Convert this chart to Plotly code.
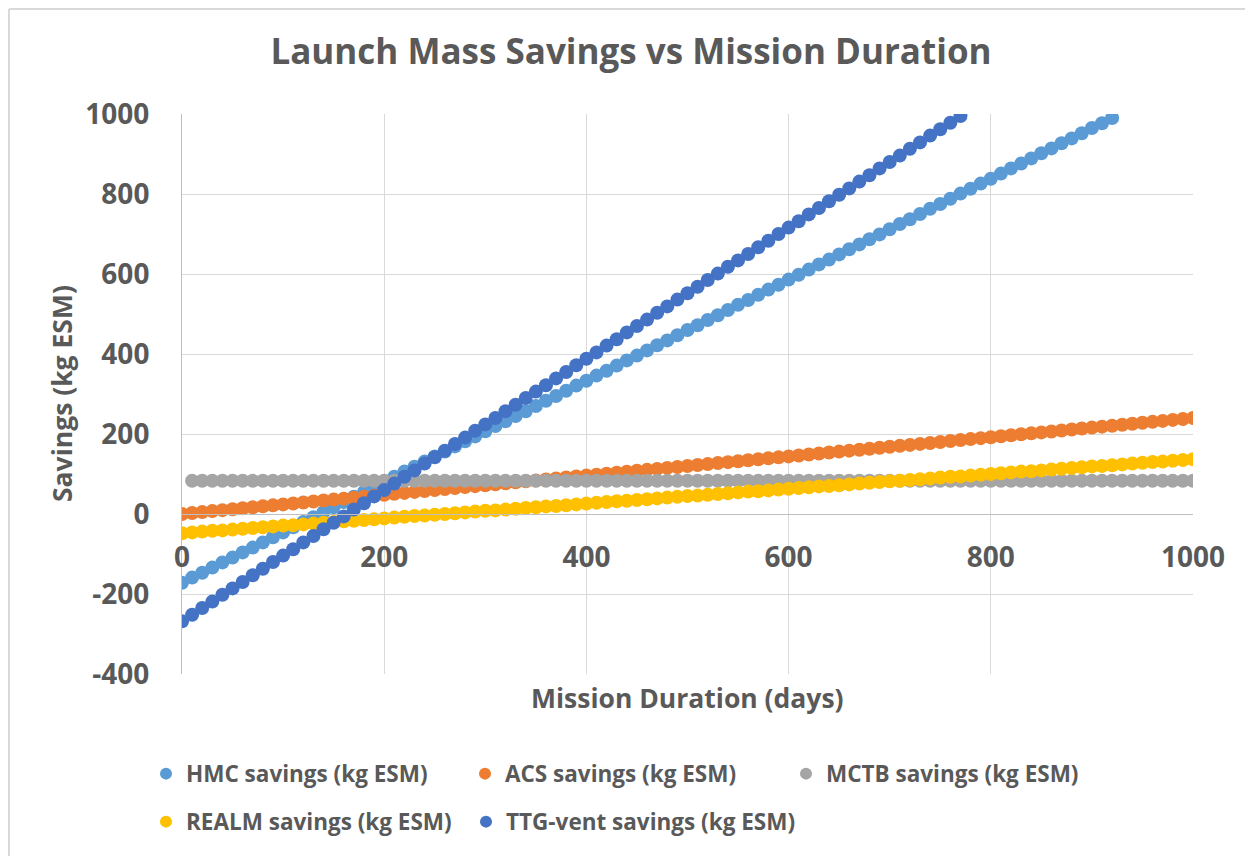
import plotly.graph_objects as go

DAYS = [0, 10, 20, 30, 40, 50, 60, 70, 80, 90,
        100, 110, 120, 130, 140, 150, 160, 170, 180, 190,
        200, 210, 220, 230, 240, 250, 260, 270, 280, 290,
        300, 310, 320, 330, 340, 350, 360, 370, 380, 390,
        400, 410, 420, 430, 440, 450, 460, 470, 480, 490,
        500, 510, 520, 530, 540, 550, 560, 570, 580, 590,
        600, 610, 620, 630, 640, 650, 660, 670, 680, 690,
        700, 710, 720, 730, 740, 750, 760, 770, 780, 790,
        800, 810, 820, 830, 840, 850, 860, 870, 880, 890,
        900, 910, 920, 930, 940, 950, 960, 970, 980, 990,
        1000]

HMC = [-172, -159, -147, -134, -121, -109, -96, -84, -71, -58,
       -46, -33, -20, -8, 5, 17, 30, 43, 55, 68,
       81, 93, 106, 118, 131, 144, 156, 169, 182, 194,
       207, 220, 232, 245, 257, 270, 283, 295, 308, 321,
       333, 346, 358, 371, 384, 396, 409, 422, 434, 447,
       460, 472, 485, 497, 510, 523, 535, 548, 561, 573,
       586, 598, 611, 624, 636, 649, 662, 674, 687, 699,
       712, 725, 737, 750, 763, 775, 788, 801, 813, 826,
       838, 851, 864, 876, 889, 902, 914, 927, 939, 952,
       965, 977, 990]

ACS = [0, 2.4, 4.8, 7.2, 9.6, 12, 14.4, 16.8, 19.2, 21.6,
       24, 26.4, 28.8, 31.2, 33.6, 36, 38.4, 40.8, 43.2, 45.6,
       48, 50.4, 52.8, 55.2, 57.6, 60, 62.4, 64.8, 67.2, 69.6,
       72, 74.4, 76.8, 79.2, 81.6, 84, 86.4, 88.8, 91.2, 93.6,
       96, 98.4, 100.8, 103.2, 105.6, 108, 110.4, 112.8, 115.2, 117.6,
       120, 122.4, 124.8, 127.2, 129.6, 132, 134.4, 136.8, 139.2, 141.6,
       144, 146.4, 148.8, 151.2, 153.6, 156, 158.4, 160.8, 163.2, 165.6,
       168, 170.4, 172.8, 175.2, 177.6, 180, 182.4, 184.8, 187.2, 189.6,
       192, 194.4, 196.8, 199.2, 201.6, 204, 206.4, 208.8, 211.2, 213.6,
       216, 218.4, 220.8, 223.2, 225.6, 228, 230.4, 232.8, 235.2, 237.6,
       240]

MCTB = [83, 83, 83, 83, 83, 83, 83, 83, 83, 83,
        83, 83, 83, 83, 83, 83, 83, 83, 83, 83,
        83, 83, 83, 83, 83, 83, 83, 83, 83, 83,
        83, 83, 83, 83, 83, 83, 83, 83, 83, 83,
        83, 83, 83, 83, 83, 83, 83, 83, 83, 83,
        83, 83, 83, 83, 83, 83, 83, 83, 83, 83,
        83, 83, 83, 83, 83, 83, 83, 83, 83, 83,
        83, 83, 83, 83, 83, 83, 83, 83, 83, 83,
        83, 83, 83, 83, 83, 83, 83, 83, 83, 83,
        83, 83, 83, 83, 83, 83, 83, 83, 83, 83]

REALM = [-48, -46, -44, -42, -41, -39, -37, -35, -33, -31,
         -29, -28, -26, -24, -22, -20, -18, -17, -15, -13,
         -11, -9, -7, -5, -4, -2, 0, 2, 4, 6,
         8, 9, 11, 13, 15, 17, 19, 20, 22, 24,
         26, 28, 30, 32, 33, 35, 37, 39, 41, 43,
         45, 46, 48, 50, 52, 54, 56, 57, 59, 61,
         63, 65, 67, 69, 70, 72, 74, 76, 78, 80,
         82, 83, 85, 87, 89, 91, 93, 94, 96, 98,
         100, 102, 104, 106, 107, 109, 111, 113, 115, 117,
         119, 120, 122, 124, 126, 128, 130, 131, 133, 135,
         137]

TTG = [-268, -252, -235, -219, -202, -186, -170, -153, -137, -120,
       -104, -88, -71, -55, -38, -22, -6, 11, 27, 44,
       60, 76, 93, 109, 126, 142, 158, 175, 191, 208,
       224, 240, 257, 273, 290, 306, 322, 339, 355, 372,
       388, 404, 421, 437, 454, 470, 486, 503, 519, 536,
       552, 568, 585, 601, 618, 634, 650, 667, 683, 700,
       716, 732, 749, 765, 782, 798, 814, 831, 847, 864,
       880, 896, 913, 929, 946, 962, 978, 995]

X_TICKS = [0, 200, 400, 600, 800, 1000]
X_TICK_TEXT = ["0", "200", "400", "600", "800", "1000"]
Y_TICKS = [-400, -200, 0, 200, 400, 600, 800, 1000]
Y_TICK_TEXT = ["-400", "-200", "0", "200", "400", "600", "800", "1000"]

NAMES = ["HMC savings (kg ESM)", "ACS savings (kg ESM)", "MCTB savings (kg ESM)",
         "REALM savings (kg ESM)", "TTG-vent savings (kg ESM)"]
COLORS = ["#5B9BD5", "#ED7D31", "#A5A5A5", "#FFC000", "#4472C4"]

FONT = "Open Sans"
TXT = "#595959"

# page offset of the figure inside the browser page (body margin)
OFF = 8
W, H = 1253 - OFF, 856 - OFF
# plot area in page pixels: x 182..1193, y 114..674
ML = 182 - OFF
MT = 114 - OFF
MR = W - (1193 - OFF)
MB = H - (674 - OFF)
PW, PH = W - ML - MR, H - MT - MB


def px_x(p):
    return (p - OFF - ML) / PW


def px_y(p):
    return (H - MB - (p - OFF)) / PH


series = [
    (DAYS[:len(HMC)], HMC),
    (DAYS[:len(ACS)], ACS),
    (DAYS[1:1 + len(MCTB)], MCTB),
    (DAYS[:len(REALM)], REALM),
    (DAYS[:len(TTG)], TTG),
]
LEGEND_IDS = ["legend", "legend2", "legend3", "legend4", "legend5"]
# legend marker centres in page pixels
LEG_POS = [(167, 774), (486, 774), (807, 774), (167, 822), (487, 822)]

fig = go.Figure()
for (xs, ys), name, col, lid in zip(series, NAMES, COLORS, LEGEND_IDS):
    fig.add_trace(go.Scatter(
        x=xs, y=ys, mode="markers", name=name, legend=lid,
        marker=dict(size=14, color=col, line=dict(width=0)),
    ))

legends = {}
for lid, (mx, my) in zip(LEGEND_IDS, LEG_POS):
    legends[lid] = dict(
        orientation="h", xanchor="left", yanchor="middle",
        x=px_x(mx - 21), y=px_y(my),
        font=dict(family=FONT, size=22.5, color=TXT, weight="bold"),
        bgcolor="rgba(0,0,0,0)", itemsizing="constant",
    )

fig.update_layout(
    width=W, height=H,
    margin=dict(l=ML, r=MR, t=MT, b=MB, autoexpand=False),
    paper_bgcolor="white", plot_bgcolor="white",
    title=dict(
        text="Launch Mass Savings vs Mission Duration",
        x=(631 - OFF) / W, xref="container", xanchor="center",
        y=1 - (52 - OFF) / H, yref="container", yanchor="middle",
        font=dict(family=FONT, size=35, color=TXT, weight="bold"),
    ),
    xaxis=dict(
        range=[0, 1000], tickvals=X_TICKS, ticktext=X_TICK_TEXT,
        showgrid=True, gridcolor="#D9D9D9", gridwidth=1,
        zeroline=False, showline=True, linecolor="#BFBFBF", linewidth=1,
        anchor="free", position=400 / 1400,
        ticks="", ticklabelstandoff=18,
        tickfont=dict(family=FONT, size=28, color=TXT, weight="bold"),
    ),
    yaxis=dict(
        range=[-400, 1000], tickvals=Y_TICKS, ticktext=Y_TICK_TEXT,
        showgrid=True, gridcolor="#D9D9D9", gridwidth=1,
        zeroline=False, showline=True, linecolor="#BFBFBF", linewidth=1,
        ticks="", ticklabelstandoff=26,
        tickfont=dict(family=FONT, size=28, color=TXT, weight="bold"),
    ),
    showlegend=True,
    annotations=[
        dict(text="Mission Duration (days)", xref="paper", yref="paper",
             x=0.5, y=px_y(698), xanchor="center", yanchor="middle",
             showarrow=False,
             font=dict(family=FONT, size=26.5, color=TXT, weight="bold")),
        dict(text="Savings (kg ESM)", xref="paper", yref="paper",
             x=px_x(62), y=0.5, xanchor="center", yanchor="middle",
             textangle=-90, showarrow=False,
             font=dict(family=FONT, size=26.5, color=TXT, weight="bold")),
    ],
    shapes=[
        dict(type="line", xref="paper", yref="paper",
             x0=px_x(9), x1=px_x(1260), y0=px_y(9), y1=px_y(9),
             line=dict(color="#D9D9D9", width=2)),
        dict(type="line", xref="paper", yref="paper",
             x0=px_x(9), x1=px_x(9), y0=px_y(9), y1=px_y(860),
             line=dict(color="#D9D9D9", width=2)),
    ],
    **legends,
)

fig.write_html("out.html")
